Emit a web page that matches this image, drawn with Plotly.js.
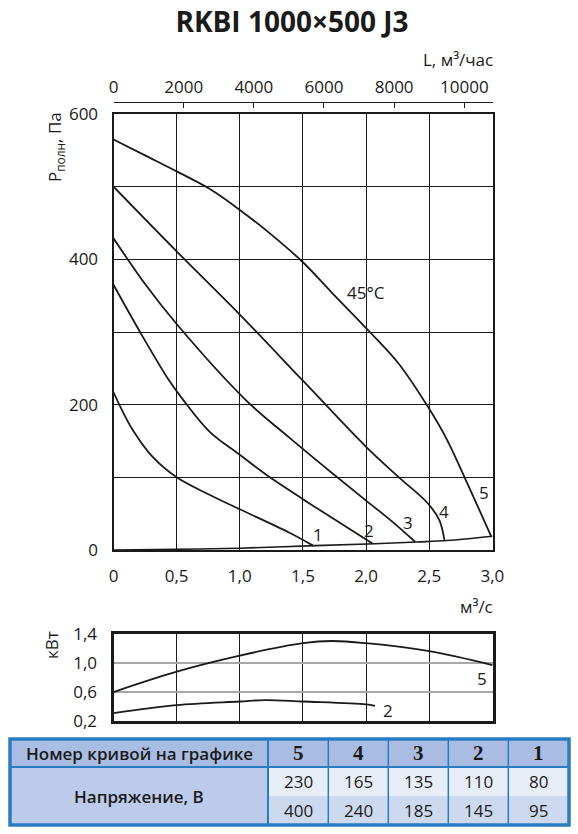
<!DOCTYPE html>
<html>
<head>
<meta charset="utf-8">
<script src="https://cdn.plot.ly/plotly-3.0.1.min.js"></script>
<style>html,body{margin:0;padding:0;background:#fff;}#chart{width:578px;height:834px;}</style>
</head>
<body>
<div id="chart"></div>
<script>
// ---- Data ----
const flow1 = [0, 0.08, 0.16, 0.31, 0.5, 0.76, 1.0, 1.39, 1.58];
const pres1 = [217, 188, 163, 128, 100, 76, 56, 24, 6];
const flow2 = [0, 0.21, 0.43, 0.55, 0.76, 1.0, 1.23, 1.5, 2.05];
const pres2 = [365, 300, 236, 207, 163, 131, 101, 70, 9];
const flow3 = [0, 0.25, 0.5, 1.05, 1.39, 1.73, 2.0, 2.2, 2.39];
const pres3 = [429, 366, 311, 206, 155, 106, 68, 40, 11];
const flow4 = [0, 0.5, 1.0, 1.5, 2.0, 2.26, 2.49, 2.58, 2.62];
const pres4 = [500, 411, 324, 233, 142, 100, 64, 41, 14];
const flow5 = [0, 0.25, 0.5, 0.76, 1.0, 1.25, 1.5, 1.73, 2.03, 2.26, 2.49, 2.64, 2.78, 2.99];
const pres5 = [565, 543, 521, 497, 468, 434, 396, 354, 300, 256, 197, 152, 100, 19];
const sysFlow = [0, 0.5, 1.0, 1.6, 2.07, 2.4, 2.64, 3.0];
const sysPres = [0, 1, 2.5, 6, 8.5, 11, 13, 19];

const kwFlow5 = [0, 0.5, 1.0, 1.5, 1.73, 2.0, 2.5, 3.0];
const kw5 = [0.60, 0.88, 1.10, 1.27, 1.30, 1.27, 1.16, 0.97];
const kwFlow2 = [0, 0.5, 1.0, 1.2, 1.5, 2.0, 2.07];
const kw2 = [0.31, 0.42, 0.47, 0.49, 0.47, 0.43, 0.41];

const flowTicks = [0, 0.5, 1.0, 1.5, 2.0, 2.5, 3.0];
const flowTickText = ['0', '0,5', '1,0', '1,5', '2,0', '2,5', '3,0'];
const presTicks = [0, 200, 400, 600];
const presMinorTicks = [100, 300, 500];
const lTicks = [0, 2000, 4000, 6000, 8000, 10000];
const lTickText = ['0', '2000', '4000', '6000', '8000', '10000'];
const kwTicks = [0.2, 0.6, 1.0, 1.4];
const kwTickText = ['0,2', '0,6', '1,0', '1,4'];

const curveNumbers = ['5', '4', '3', '2', '1'];
const voltageRow1 = [230, 165, 135, 110, 80];
const voltageRow2 = [400, 240, 185, 145, 95];

// ---- helpers ----
const W = 578, H = 834;
const px = x => x / W;
const py = y => 1 - y / H;
const FONT = 'Open Sans, Lato, sans-serif';
const INK = '#1a1a1a';

const curveLine = {color: INK, width: 1.8, shape: 'spline', smoothing: 1.0};
function mk(x, y, xa, ya, extra) {
  return Object.assign({x: x, y: y, xaxis: xa, yaxis: ya, type: 'scatter', mode: 'lines',
    line: curveLine, hoverinfo: 'skip'}, extra || {});
}
const traces = [
  mk(sysFlow, sysPres, 'x', 'y', {line: {color: INK, width: 1.6, shape: 'spline', smoothing: 1.0}}),
  mk(flow1, pres1, 'x', 'y'),
  mk(flow2, pres2, 'x', 'y'),
  mk(flow3, pres3, 'x', 'y'),
  mk(flow4, pres4, 'x', 'y'),
  mk(flow5, pres5, 'x', 'y'),
  // invisible trace on the top (m3/h) axis so that axis is built
  mk(flow5.map(q => q * 3600), pres5, 'x2', 'y', {line: {width: 0, color: 'rgba(0,0,0,0)'}}),
  mk(kwFlow5, kw5, 'x3', 'y3'),
  mk(kwFlow2, kw2, 'x3', 'y3')
];

const xRange = [0, 3.005];
const annotations = [];
function label(text, x, y, xref, yref, opts) {
  annotations.push(Object.assign({text: text, x: x, y: y, xref: xref, yref: yref,
    showarrow: false, xanchor: 'center', yanchor: 'middle', font: {family: FONT, size: 17, color: INK}}, opts || {}));
}
// curve labels
label('1', 1.62, 22, 'x', 'y');
label('2', 2.02, 27, 'x', 'y');
label('3', 2.33, 38, 'x', 'y');
label('4', 2.62, 53, 'x', 'y');
label('5', 2.93, 79, 'x', 'y');
label('45°C', 2.0, 354, 'x', 'y');
label('5', 2.92, 0.79, 'x3', 'y3');
label('2', 2.17, 0.35, 'x3', 'y3');
// axis titles
label('P<sub>полн</sub>, Па', px(55), py(147), 'paper', 'paper', {textangle: -90});
label('L, м³/час', px(495), py(59), 'paper', 'paper', {xanchor: 'right'});
label('м³/с', px(495), py(606), 'paper', 'paper', {xanchor: 'right'});
label('кВт', px(51), py(645), 'paper', 'paper', {textangle: -90});

// ---- table ----
const tblX = [10, 268, 328.3, 388.3, 448.3, 508.3, 569];
const tblY = [739, 767, 795.7, 825];
const BLUE = '#2a7cc2';
const shapes = [];
function rect(x0, y0, x1, y1, fill, lineW) {
  shapes.push({type: 'rect', xref: 'paper', yref: 'paper', x0: px(x0), x1: px(x1), y0: py(y1), y1: py(y0),
    fillcolor: fill, line: {width: lineW || 0, color: BLUE}, layer: 'above'});
}
function seg(x0, y0, x1, y1, w) {
  shapes.push({type: 'line', xref: 'paper', yref: 'paper', x0: px(x0), x1: px(x1), y0: py(y0), y1: py(y1),
    line: {width: w, color: BLUE}, layer: 'above'});
}
rect(tblX[0], tblY[0], tblX[6], tblY[1], '#a9bde3');
rect(tblX[0], tblY[1], tblX[1], tblY[3], '#bccbea');
rect(tblX[1], tblY[1], tblX[6], tblY[2], '#e8eef8');
rect(tblX[1], tblY[2], tblX[6], tblY[3], '#cdd9ef');
seg(tblX[0], tblY[1], tblX[6], tblY[1], 2);
seg(tblX[1], tblY[0], tblX[1], tblY[3], 2);
for (let i = 2; i < 6; i++) seg(tblX[i], tblY[0], tblX[i], tblY[3], 1.5);
rect(tblX[0], tblY[0], tblX[6], tblY[3], 'rgba(0,0,0,0)', 3.5);

label('Номер кривой на графике', px((tblX[0] + tblX[1]) / 2), py((tblY[0] + tblY[1]) / 2), 'paper', 'paper',
  {font: {family: FONT, size: 17, color: INK, weight: 600}});
label('Напряжение, В', px((tblX[0] + tblX[1]) / 2), py((tblY[1] + tblY[3]) / 2), 'paper', 'paper',
  {font: {family: FONT, size: 17, color: INK, weight: 600}});
for (let i = 0; i < 5; i++) {
  const cx = px((tblX[i + 1] + tblX[i + 2]) / 2);
  label(curveNumbers[i], cx, py((tblY[0] + tblY[1]) / 2), 'paper', 'paper',
    {font: {family: 'Liberation Serif, serif', size: 21, color: INK, weight: 700}});
  label(String(voltageRow1[i]), cx, py((tblY[1] + tblY[2]) / 2), 'paper', 'paper');
  label(String(voltageRow2[i]), cx, py((tblY[2] + tblY[3]) / 2), 'paper', 'paper');
}

const axisCommon = {showline: true, mirror: true, linecolor: INK, zeroline: false, ticks: '',
  showgrid: true, gridcolor: INK, gridwidth: 1, fixedrange: true};

const layout = {
  width: W, height: H,
  margin: {l: 0, r: 0, t: 0, b: 0},
  paper_bgcolor: '#ffffff', plot_bgcolor: '#ffffff',
  showlegend: false,
  font: {family: FONT, size: 17, color: INK},
  title: {text: '<b>RKBI 1000×500 J3</b>', x: px(292), xanchor: 'center', xref: 'paper',
    y: py(22), yanchor: 'middle', yref: 'paper', font: {family: FONT, size: 28, color: INK}},
  xaxis: Object.assign({}, axisCommon, {domain: [px(113.5), px(493)], range: xRange, anchor: 'y',
    tickvals: flowTicks, ticktext: flowTickText, linewidth: 2, ticklabelstandoff: 10}),
  yaxis: Object.assign({}, axisCommon, {domain: [py(550), py(114)], range: [0, 600], anchor: 'x',
    tickvals: presTicks, linewidth: 2, ticklabelstandoff: 10,
    minor: {tickvals: presMinorTicks, showgrid: true, gridcolor: INK, gridwidth: 1, ticks: ''}}),
  xaxis2: {overlaying: 'x', side: 'top', anchor: 'free', position: py(101.7), range: xRange.map(v => v * 3600),
    tickvals: lTicks, ticktext: lTickText, ticks: 'inside', ticklen: 5, tickcolor: INK, tickwidth: 1,
    showline: true, linecolor: INK, linewidth: 1, showgrid: false, zeroline: false, fixedrange: true,
    ticklabelstandoff: 2},
  xaxis3: Object.assign({}, axisCommon, {domain: [px(113.5), px(493)], range: xRange, anchor: 'y3',
    tickvals: [0.5, 1.0, 1.5, 2.0, 2.5], showticklabels: false, linewidth: 3}),
  yaxis3: Object.assign({}, axisCommon, {domain: [py(721.2), py(633.7)], range: [0.2, 1.4], anchor: 'x3',
    tickvals: kwTicks, ticktext: kwTickText, gridcolor: '#a8a8a8', gridwidth: 1.6, linewidth: 3,
    ticklabelstandoff: 10}),
  annotations: annotations,
  shapes: shapes
};

Plotly.newPlot('chart', traces, layout, {displayModeBar: false, staticPlot: true});
</script>
</body>
</html>
